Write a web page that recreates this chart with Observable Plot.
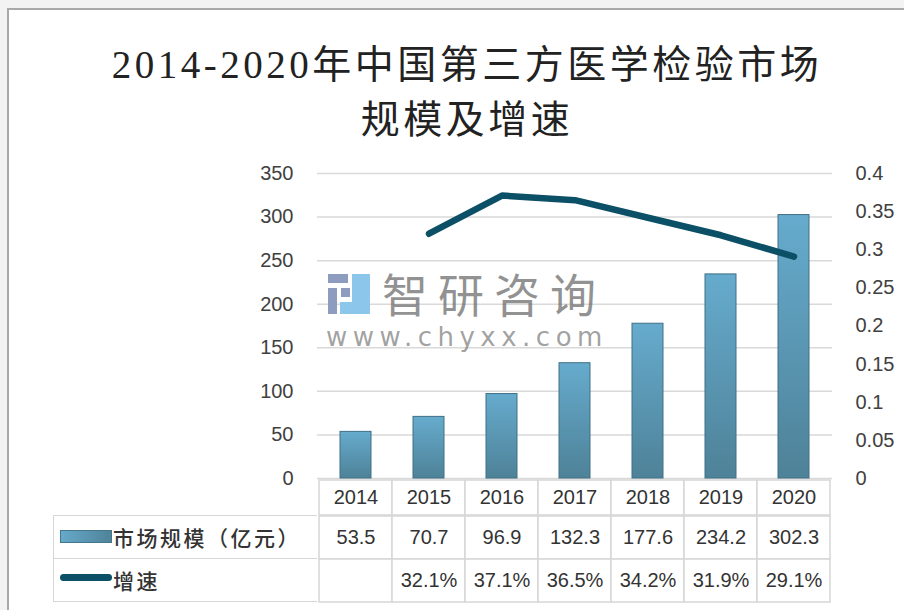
<!DOCTYPE html>
<html><head><meta charset="utf-8">
<script src="https://cdn.jsdelivr.net/npm/d3@7"></script>
<script src="https://cdn.jsdelivr.net/npm/@observablehq/plot@0.6"></script>
<style>
html,body{margin:0;padding:0}
body{width:904px;height:610px;overflow:hidden;position:relative;background:#f3f3f3;font-family:"Liberation Sans",Arial,sans-serif}
#frame{position:absolute;left:7px;top:8px;width:960px;height:660px;background:#fff;border-left:2px solid #a9a9a9;border-top:2px solid #a9a9a9}
.abs{position:absolute}
#title{left:0;width:934px;top:37px;text-align:center;font-family:"Liberation Serif","Noto Sans CJK SC",serif;font-size:39px;letter-spacing:3.5px;line-height:55px;color:#222;font-weight:400}
#wm1{left:382px;top:262px;font-family:"Noto Sans CJK SC",sans-serif;font-size:46px;letter-spacing:10px;color:rgba(110,110,110,0.75);line-height:60px}
#wm2{left:326px;top:322px;font-family:"DejaVu Sans","Liberation Sans",sans-serif;font-size:26px;letter-spacing:5.5px;color:rgba(120,120,120,0.7);line-height:30px}
.hdr{left:53px;width:264px;border:1.5px solid #d6d6d6;border-right:none;box-sizing:border-box;background:#fff}
.lab{font-family:"Noto Sans CJK SC",sans-serif;font-size:21px;letter-spacing:2.5px;color:#333;left:62px;white-space:nowrap;font-weight:500}
</style></head>
<body>
<div id="frame"></div>
<div id="title" class="abs">2014-2020年中国第三方医学检验市场<br>规模及增速</div>
<div id="chart" class="abs" style="left:0;top:150px"></div>
<div id="logo" class="abs" style="left:328px;top:274px;width:42px;height:40px">
  <div class="abs" style="left:0;top:0;width:20px;height:9px;background:#8e9cc0"></div>
  <div class="abs" style="left:0;top:14px;width:9px;height:26px;background:#8e9cc0"></div>
  <div class="abs" style="left:13px;top:14px;width:9px;height:9px;background:#8e9cc0"></div>
  <div class="abs" style="left:24px;top:0;width:18px;height:40px;background:#8cc6ea"></div>
  <div class="abs" style="left:12px;top:28px;width:12px;height:12px;background:#8cc6ea"></div>
</div>
<div id="wm1" class="abs">智研咨询</div>
<div id="wm2" class="abs">www.chyxx.com</div>
<div id="yearrow" class="abs" style="left:0;top:479px"></div>
<div class="abs hdr" style="top:515px;height:44px"></div>
<div class="abs hdr" style="top:558px;height:44px"></div>
<div id="table" class="abs" style="left:0;top:514px"></div>
<div class="abs" style="left:60px;top:530px;width:52px;height:13px;background:linear-gradient(90deg,#66a9ca,#4f8399);border:1px solid #44778b;box-sizing:border-box"></div>
<div class="abs lab" style="left:113px;top:522px">市场规模（亿元）</div>
<div class="abs" style="left:60px;top:574px;width:52px;height:7px;background:#0b5066;border-radius:4px"></div>
<div class="abs lab" style="left:113px;top:565px">增速</div>
<script>
const years = ["2014","2015","2016","2017","2018","2019","2020"];
const marketSize = [53.5, 70.7, 96.9, 132.3, 177.6, 234.2, 302.3];
const growthRate = [null, 0.321, 0.371, 0.365, 0.342, 0.319, 0.291];
const growthLabels = ["", "32.1%", "37.1%", "36.5%", "34.2%", "31.9%", "29.1%"];
const leftTicks = [0, 50, 100, 150, 200, 250, 300, 350];
const rightTicks = [0, 0.05, 0.1, 0.15, 0.2, 0.25, 0.3, 0.35, 0.4];

const ratio = 350 / 0.4;
const bars = years.map((y, i) => ({year: y, size: marketSize[i]}));
const line = years.map((y, i) => ({year: y, g: growthRate[i]})).filter(d => d.g != null);

const W = 904, ML = 317, MR = 72;
const xOpts = {type: "band", domain: years, padding: 0};
const axisStyle = {fontFamily: "Liberation Sans, Arial, sans-serif", color: "#404040", background: "transparent", overflow: "visible"};

const chart = Plot.plot({
  width: W, height: 330, marginTop: 23, marginBottom: 2, marginLeft: ML, marginRight: MR,
  x: {...xOpts, axis: null},
  y: {domain: [0, 350], axis: null},
  style: axisStyle,
  marks: [
    Plot.gridY(leftTicks, {stroke: "#d9d9d9", strokeOpacity: 1, strokeWidth: 1.5}),
    Plot.axisY(leftTicks, {anchor: "left", tickSize: 0, tickPadding: 24, fontSize: 20, label: null}),
    Plot.axisY(rightTicks.map(v => v * ratio), {anchor: "right", tickSize: 0, tickPadding: 23, fontSize: 20, label: null,
      tickFormat: d => String(+(d / ratio).toFixed(2))}),
    Plot.barY(bars, {x: "year", y: "size", fill: "url(#barGrad)", stroke: "#3e7085", strokeWidth: 1, insetLeft: 21, insetRight: 21}),
    Plot.line(line, {x: "year", y: d => d.g * ratio, stroke: "#0b5066", strokeWidth: 6.5, strokeLinecap: "round", strokeLinejoin: "round"})
  ]
});
d3.select(chart).insert("defs", ":first-child").html(
  '<linearGradient id="barGrad" x1="0" y1="0" x2="0" y2="1">' +
  '<stop offset="0" stop-color="#66abcd"/><stop offset="1" stop-color="#4e8298"/></linearGradient>');
document.getElementById("chart").appendChild(chart);

const yearRow = Plot.plot({
  width: W, height: 37, marginTop: 1, marginBottom: 1, marginLeft: ML, marginRight: MR,
  x: {...xOpts, axis: null},
  style: axisStyle,
  marks: [
    Plot.cell(years, {x: d => d, fill: "#fff", stroke: "#d6d6d6", strokeWidth: 1.5}),
    Plot.text(years, {x: d => d, text: d => d, fontSize: 20, fill: "#333"})
  ]
});
document.getElementById("yearrow").appendChild(yearRow);

const cells = [];
years.forEach((y, i) => {
  cells.push({year: y, row: "size", label: String(marketSize[i])});
  cells.push({year: y, row: "growth", label: growthLabels[i]});
});
const table = Plot.plot({
  width: W, height: 89, marginTop: 1, marginBottom: 1, marginLeft: ML, marginRight: MR,
  x: {...xOpts, axis: null},
  y: {type: "band", domain: ["size", "growth"], padding: 0, axis: null},
  style: axisStyle,
  marks: [
    Plot.cell(cells, {x: "year", y: "row", fill: "#fff", stroke: "#d6d6d6", strokeWidth: 1.5}),
    Plot.text(cells, {x: "year", y: "row", text: "label", fontSize: 20, fill: "#333"})
  ]
});
document.getElementById("table").appendChild(table);
</script>
</body></html>
